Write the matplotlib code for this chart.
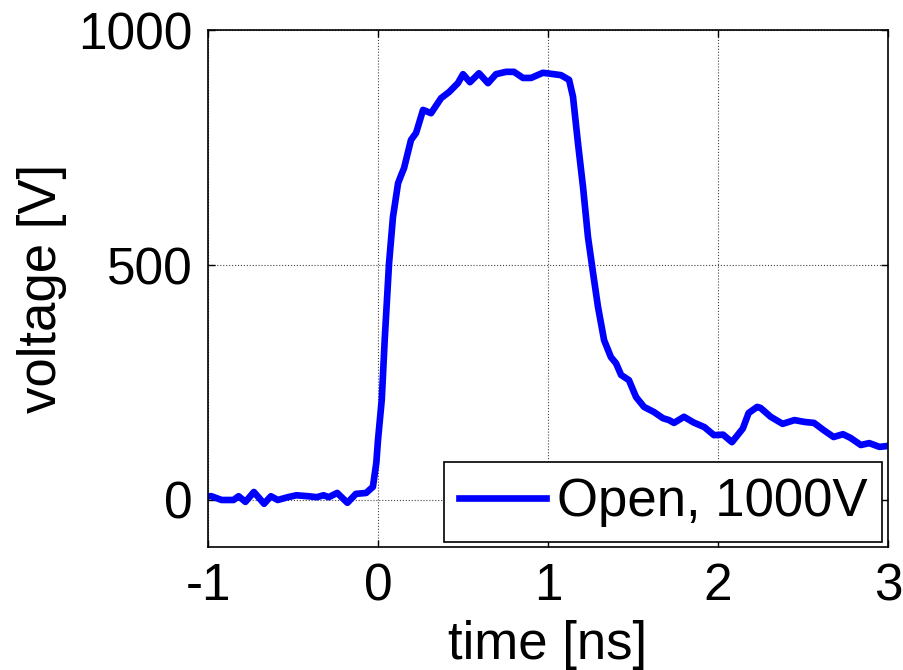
import matplotlib
matplotlib.use("Agg")
import matplotlib.pyplot as plt

plt.rcParams['font.family'] = ['Liberation Sans', 'DejaVu Sans']
plt.rcParams['axes.unicode_minus'] = False

# time [ns] and voltage [V]
time_ns = [-1.0, -0.98, -0.92, -0.85, -0.82, -0.78, -0.73, -0.67, -0.63, -0.59,
           -0.53, -0.48, -0.41, -0.36, -0.32, -0.29, -0.24, -0.18, -0.13, -0.07,
           -0.03, -0.01, 0.0, 0.022, 0.04, 0.065, 0.088, 0.106, 0.118, 0.135,
           0.153, 0.194, 0.224, 0.265, 0.312, 0.371, 0.418, 0.47, 0.5, 0.541,
           0.594, 0.647, 0.694, 0.753, 0.8, 0.853, 0.9, 0.97, 1.035, 1.076,
           1.124, 1.147, 1.176, 1.206, 1.235, 1.265, 1.294, 1.33, 1.37, 1.4,
           1.43, 1.476, 1.518, 1.565, 1.624, 1.676, 1.712, 1.741, 1.8, 1.856,
           1.92, 1.976, 2.03, 2.082, 2.146, 2.18, 2.23, 2.25, 2.31, 2.38,
           2.45, 2.51, 2.565, 2.62, 2.68, 2.735, 2.78, 2.84, 2.89, 2.95, 3.0]
voltage = [8, 8, 0, 0, 8, -4, 17, -8, 8, 0,
           6, 10, 8, 6, 10, 6, 15, -6, 13, 15,
           28, 79, 128, 213, 345, 504, 602, 645, 674, 690,
           706, 766, 781, 830, 823, 855, 868, 887, 906, 889,
           908, 887, 906, 911, 911, 898, 898, 909, 906, 904,
           894, 858, 760, 666, 560, 483, 411, 340, 304, 291,
           266, 255, 219, 198, 187, 174, 170, 164, 177, 165,
           155, 138, 139, 123, 152, 185, 198, 196, 177, 162,
           170, 166, 164, 149, 134, 140, 132, 117, 121, 113, 115]

x_ticks = [-1, 0, 1, 2, 3]
y_ticks = [0, 500, 1000]

fig = plt.figure(figsize=(9.04, 6.70), dpi=100)
ax = fig.add_axes([0.2301, 0.1836, 0.7522, 0.7716])

ax.plot(time_ns, voltage, color='#0000ff', linewidth=4.8, label='Open, 1000V')

ax.set_xlim(-1, 3)
ax.set_ylim(-100, 1000)
ax.set_xticks(x_ticks)
ax.set_yticks(y_ticks)
ax.grid(True, color='#444444', linestyle=':', linewidth=0.8)
ax.tick_params(direction='in', top=True, right=True, length=5, width=1,
               labelsize=37, pad=11)
for s in ax.spines.values():
    s.set_linewidth(1.2)

ax.set_xlabel('time [ns]', fontsize=38, labelpad=6)
ax.set_ylabel('voltage [V]', fontsize=38, labelpad=8)

leg = ax.legend(loc='lower right', bbox_to_anchor=(0.991, 0.0097), borderaxespad=0,
                fontsize=38, fancybox=False, edgecolor='black', framealpha=1,
                borderpad=0.28, handlelength=1.65, handletextpad=0.2)
leg.get_frame().set_linewidth(1.2)

fig.savefig('out.png', dpi=100)
